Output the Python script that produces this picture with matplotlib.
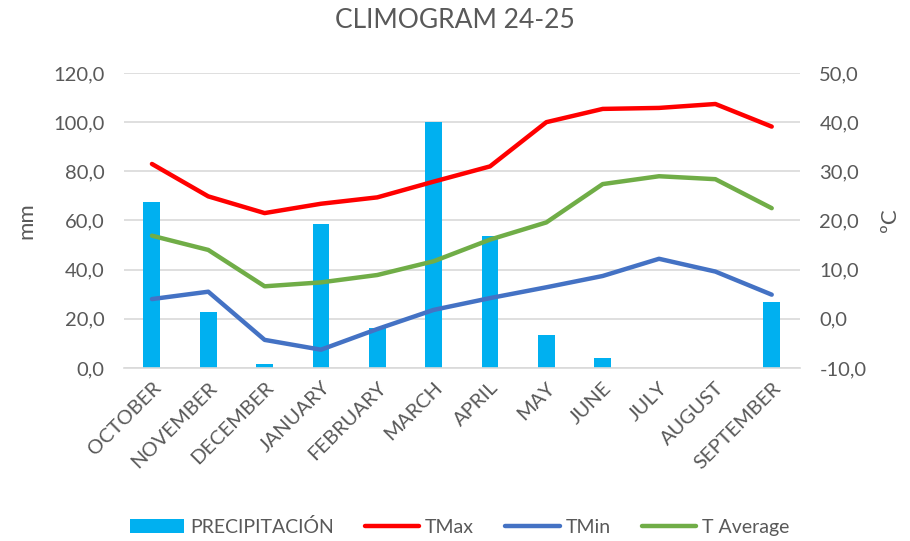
import matplotlib.pyplot as plt
import numpy as np

plt.rcParams['font.family'] = ['Lato', 'DejaVu Sans']

months = ['OCTOBER', 'NOVEMBER', 'DECEMBER', 'JANUARY', 'FEBRUARY', 'MARCH',
          'APRIL', 'MAY', 'JUNE', 'JULY', 'AUGUST', 'SEPTEMBER']
precip = [67.7, 22.7, 1.5, 58.4, 16.4, 100.2, 53.5, 13.2, 4.2, 0.0, 0.0, 27.0]
tmax = [31.5, 24.9, 21.5, 23.4, 24.7, 27.9, 31.0, 40.0, 42.7, 42.9, 43.7, 39.1]
tmin = [4.0, 5.5, -4.3, -6.3, -2.1, 1.8, 4.2, 6.4, 8.7, 12.2, 9.6, 4.9]
tavg = [16.9, 14.0, 6.6, 7.4, 8.9, 11.7, 16.1, 19.6, 27.4, 29.0, 28.4, 22.5]

left_ticks = np.arange(0, 121, 20)
right_ticks = np.arange(-10, 51, 10)

gray = '#595959'

fig = plt.figure(figsize=(9.1, 5.41), dpi=100)
ax = fig.add_axes([0.136, 0.320, 0.743, 0.545])
ax2 = ax.twinx()

x = np.arange(len(months))
bars = ax.bar(x, precip, width=0.3, color='#00B0F0', zorder=2, label='PRECIPITACIÓN')
ax.set_ylim(0, 120)
ax.set_xlim(-0.5, len(months) - 0.5)
ax.set_yticks(left_ticks)
ax.set_yticklabels([f'{v:.1f}'.replace('.', ',') for v in left_ticks])
ax.grid(axis='y', color='#D9D9D9', lw=1.2, zorder=0)
ax.set_axisbelow(True)

l1, = ax2.plot(x, tmax, color='#FF0000', lw=3.2, solid_capstyle='round', label='TMax')
l2, = ax2.plot(x, tmin, color='#4472C4', lw=3.2, solid_capstyle='round', label='TMin')
l3, = ax2.plot(x, tavg, color='#70AD47', lw=3.2, solid_capstyle='round', label='T Average')
ax2.set_ylim(-10, 50)
ax2.set_yticks(right_ticks)
ax2.set_yticklabels([f'{v:.1f}'.replace('.', ',') for v in right_ticks])

for a in (ax, ax2):
    for s in a.spines.values():
        s.set_visible(False)
    a.tick_params(length=0, labelsize=14.5, colors=gray, pad=14)
ax.spines['bottom'].set_visible(True)
ax.spines['bottom'].set_color('#D9D9D9')
ax.spines['bottom'].set_linewidth(1.2)

ax.set_xticks(x)
ax.set_xticklabels(months, rotation=45, ha='right', rotation_mode='anchor')
ax.tick_params(axis='x', pad=8)

ax.set_ylabel('mm', fontsize=16, color=gray, labelpad=12)
ax2.set_ylabel('ºC', fontsize=16, color=gray, rotation=90, labelpad=10)

fig.suptitle('CLIMOGRAM 24-25', fontsize=19, color=gray, y=0.985)

fig.legend(handles=[bars, l1, l2, l3], loc='lower center', bbox_to_anchor=(0.505, -0.012),
           ncol=4, frameon=False, fontsize=14, labelcolor=gray, handlelength=2.8,
           columnspacing=1.6, handletextpad=0.3, borderpad=0.1)

fig.savefig('out.png', dpi=100)
